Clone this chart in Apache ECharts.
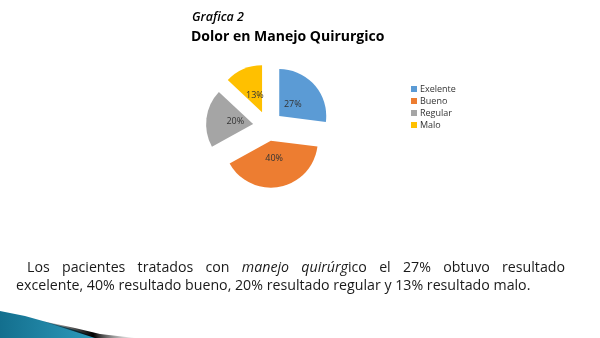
<!DOCTYPE html>
<html><head><meta charset="utf-8">
<script src="https://cdn.jsdelivr.net/npm/echarts@6/dist/echarts.min.js"></script>
<style>html,body{margin:0;padding:0;background:#fff}#c{width:600px;height:338px}</style>
</head><body><div id="c"></div>
<script>
const categories = ['Exelente', 'Bueno', 'Regular', 'Malo'];
const percents = [27, 40, 20, 13];
const colors = ['#5B9BD5', '#ED7D31', '#A5A5A5', '#FFC000'];
const chartLabel = 'Grafica 2';
const chartTitle = 'Dolor en Manejo Quirurgico';
// paragraph: each word is a list of [text, italic]
const line1 = [[['Los',0]],[['pacientes',0]],[['tratados',0]],[['con',0]],[['manejo',1]],[['quirúrg',1],['ico',0]],[['el',0]],[['27%',0]],[['obtuvo',0]],[['resultado',0]]];
const line2Text = 'excelente, 40% resultado bueno, 20% resultado regular y 13% resultado malo.';

const FONT = '"Open Sans", sans-serif';
const cv = document.createElement('canvas').getContext('2d');
function mw(t, size, it){ cv.font = (it?'italic ':'') + size + 'px ' + FONT; return cv.measureText(t).width; }
let fs = Math.round(100 * 515 / mw(line2Text, 100, 0) * 10) / 10;

const graphics = [];
// justified line 1
(function(){
  const L = 27, R = 565, y = 268;
  const widths = line1.map(w => w.reduce((s, seg) => s + mw(seg[0], fs, seg[1]), 0));
  const tot = widths.reduce((a,b)=>a+b,0);
  const gap = (R - L - tot) / (line1.length - 1);
  let x = L;
  line1.forEach((w, i) => {
    let xx = x;
    w.forEach(seg => {
      graphics.push({type:'text', x: xx, y: y, style:{text: seg[0], fontFamily: FONT, fontSize: fs, fontStyle: seg[1]?'italic':'normal', fill:'#1a1a1a', verticalAlign:'middle', align:'left'}});
      xx += mw(seg[0], fs, seg[1]);
    });
    x += widths[i] + gap;
  });
})();
graphics.push({type:'text', x: 16, y: 286, style:{text: line2Text, fontFamily: FONT, fontSize: fs, fill:'#1a1a1a', verticalAlign:'middle', align:'left'}});
// slide decoration bottom-left
graphics.push({type:'polygon', shape:{points:[[0,311],[25,316],[50,323],[75,330],[98,338],[0,338]]},
  style:{fill:{type:'linear',x:0,y:0,x2:1,y2:0,colorStops:[{offset:0,color:'#136f8e'},{offset:1,color:'#2f9cbd'}]}}, silent:true});
graphics.push({type:'polygon', shape:{points:[[42,321],[75,328],[100,334],[135,338],[95,338],[70,330]]},
  style:{fill:{type:'linear',x:0,y:0,x2:1,y2:0,colorStops:[{offset:0,color:'rgba(0,0,0,0.15)'},{offset:0.55,color:'#000'},{offset:1,color:'rgba(200,200,200,0.3)'}]}}, silent:true});

const mainData = categories.map((c, i) => ({name: c, value: percents[i], selected: true, itemStyle:{color: colors[i]}}));
const labelData = categories.map((c, i) => ({name: c, value: percents[i], selected: true}));

const chart = echarts.init(document.getElementById('c'), null, {renderer:'canvas'});
chart.setOption({
  animation: false,
  backgroundColor: '#fff',
  title: [
    {text: chartLabel, left: 192, top: 11, padding: 0, textStyle:{fontFamily:'"Open Sans", sans-serif', fontStyle:'italic', fontWeight:600, fontSize:12.5, color:'#000'}},
    {text: chartTitle, left: 191, top: 30, padding: 0, textStyle:{fontFamily:'"Open Sans", sans-serif', fontWeight:'bold', fontSize:14, color:'#000'}}
  ],
  legend: {
    orient:'vertical', left: 411, top: 84, padding: 0, itemWidth: 6, itemHeight: 6, itemGap: 2, icon:'rect',
    data: categories,
    textStyle:{fontFamily:'"Open Sans", sans-serif', fontSize: 9, color:'#333', lineHeight: 10, padding:[0,0,0,-2]}
  },
  series: [
    {type:'pie', name:'main', center:[268,126], radius:[0,47], startAngle:90, clockwise:true,
     selectedMode:'multiple', selectedOffset:15, label:{show:false}, labelLine:{show:false},
     select:{itemStyle:{borderWidth:0}}, emphasis:{disabled:true}, silent:true, data: mainData},
    {type:'pie', name:'labels', center:[268,126], radius:[0,30], startAngle:90, clockwise:true,
     selectedMode:'multiple', selectedOffset:15, itemStyle:{color:'rgba(0,0,0,0)'},
     select:{itemStyle:{color:'rgba(0,0,0,0)', borderWidth:0}}, emphasis:{disabled:true}, silent:true,
     label:{show:true, position:'inside', formatter:'{c}%', fontSize:9, color:'#333', fontFamily:'"Open Sans", sans-serif'},
     labelLine:{show:false}, data: labelData}
  ],
  graphic: graphics
});
</script></body></html>
